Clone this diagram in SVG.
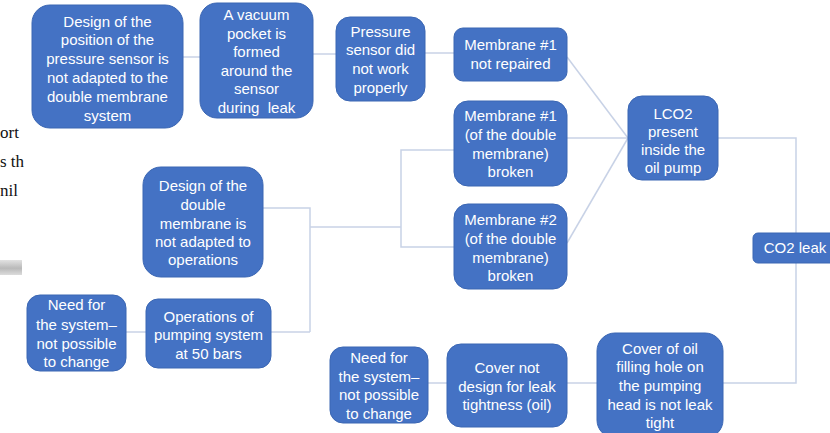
<svg xmlns="http://www.w3.org/2000/svg" width="830" height="433" viewBox="0 0 830 433">
<defs>
<style>
.n{fill:#4472c4;stroke:#3a66b3;stroke-width:1}
.t{fill:#fff;font-family:"Liberation Sans",Arial,sans-serif;font-size:15px;text-anchor:middle}
.c{fill:none;stroke:#c8d2e6;stroke-width:1.5}
.s{fill:#111;font-family:"Liberation Serif","Times New Roman",serif;font-size:17px}
</style>
<linearGradient id="g" x1="0" y1="0" x2="0" y2="1">
<stop offset="0" stop-color="#e2e2e2"/>
<stop offset="0.55" stop-color="#b9b9b9"/>
<stop offset="1" stop-color="#dcdcdc"/>
</linearGradient>
</defs>
<rect width="830" height="433" fill="#fff"/>
<g id="background-fragment">
<text class="s" x="0" y="138">ort</text>
<text class="s" x="0" y="167">s th</text>
<text class="s" x="0" y="196">nil</text>
<rect x="0" y="260" width="22" height="15" fill="url(#g)"/>
</g>
<g id="connectors">
<path class="c" d="M183,57H200"/>
<path class="c" d="M313,54H336"/>
<path class="c" d="M425,53H454"/>
<path class="c" d="M567,57L628,138"/>
<path class="c" d="M567,138H628"/>
<path class="c" d="M567,243L628,138"/>
<path class="c" d="M263,208H310V332"/>
<path class="c" d="M271,332H310"/>
<path class="c" d="M310,227H401"/>
<path class="c" d="M454,150H401V247H454"/>
<path class="c" d="M126,332H146"/>
<path class="c" d="M428,383H447"/>
<path class="c" d="M567,383H597"/>
<path class="c" d="M718,138H796V383H723"/>
</g>
<g id="n1"><rect class="n" x="32" y="5" width="151" height="123" rx="18"/>
<text class="t"><tspan x="107.5" y="26.5">Design of the</tspan><tspan x="107.5" y="45.4">position of the</tspan><tspan x="107.5" y="64.3">pressure sensor is</tspan><tspan x="107.5" y="83.2">not adapted to the</tspan><tspan x="107.5" y="102.1">double membrane</tspan><tspan x="107.5" y="121">system</tspan></text></g>
<g id="n2"><rect class="n" x="200" y="3" width="113" height="115" rx="17"/>
<text class="t" xml:space="preserve"><tspan x="256.5" y="20">A vacuum</tspan><tspan x="256.5" y="38.5">pocket is</tspan><tspan x="256.5" y="57">formed</tspan><tspan x="256.5" y="75.5">around the</tspan><tspan x="256.5" y="94">sensor</tspan><tspan x="256.5" y="112.5">during  leak</tspan></text></g>
<g id="n3"><rect class="n" x="336" y="17" width="89" height="84" rx="14"/>
<text class="t"><tspan x="380.5" y="36.5">Pressure</tspan><tspan x="380.5" y="55">sensor did</tspan><tspan x="380.5" y="74">not work</tspan><tspan x="380.5" y="93">properly</tspan></text></g>
<g id="n4"><rect class="n" x="454" y="28" width="113" height="53" rx="9"/>
<text class="t"><tspan x="510.5" y="50">Membrane #1</tspan><tspan x="510.5" y="69">not repaired</tspan></text></g>
<g id="n5"><rect class="n" x="454" y="101" width="113" height="85" rx="14"/>
<text class="t"><tspan x="510.5" y="121">Membrane #1</tspan><tspan x="510.5" y="140">(of the double</tspan><tspan x="510.5" y="158.5">membrane)</tspan><tspan x="510.5" y="177">broken</tspan></text></g>
<g id="n6"><rect class="n" x="454" y="204" width="113" height="85" rx="14"/>
<text class="t"><tspan x="510.5" y="224.5">Membrane #2</tspan><tspan x="510.5" y="243.5">(of the double</tspan><tspan x="510.5" y="262.5">membrane)</tspan><tspan x="510.5" y="281">broken</tspan></text></g>
<g id="n7"><rect class="n" x="628" y="96" width="90" height="84" rx="14"/>
<text class="t"><tspan x="673" y="118.5">LCO2</tspan><tspan x="673" y="136.5">present</tspan><tspan x="673" y="154.5">inside the</tspan><tspan x="673" y="172.5">oil pump</tspan></text></g>
<g id="n8"><rect class="n" x="753" y="233" width="84" height="30" rx="5"/>
<text class="t" x="795" y="253">CO2 leak</text></g>
<g id="n9"><rect class="n" x="597" y="333" width="126" height="105" rx="18"/>
<text class="t"><tspan x="660" y="353.5">Cover of oil</tspan><tspan x="660" y="372">filling hole on</tspan><tspan x="660" y="391">the pumping</tspan><tspan x="660" y="410">head is not leak</tspan><tspan x="660" y="428">tight</tspan></text></g>
<g id="n10"><rect class="n" x="447" y="344" width="120" height="83" rx="14"/>
<text class="t"><tspan x="507" y="372.5">Cover not</tspan><tspan x="507" y="391.5">design for leak</tspan><tspan x="507" y="410">tightness (oil)</tspan></text></g>
<g id="n11"><rect class="n" x="330" y="347" width="98" height="76" rx="13"/>
<text class="t"><tspan x="379" y="362.5">Need for</tspan><tspan x="379" y="381.5">the system–</tspan><tspan x="379" y="400">not possible</tspan><tspan x="379" y="418.5">to change</tspan></text></g>
<g id="n12"><rect class="n" x="143" y="167" width="120" height="110" rx="18"/>
<text class="t"><tspan x="203" y="191">Design of the</tspan><tspan x="203" y="209.5">double</tspan><tspan x="203" y="228.5">membrane is</tspan><tspan x="203" y="247">not adapted to</tspan><tspan x="203" y="265">operations</tspan></text></g>
<g id="n13"><rect class="n" x="146" y="299" width="125" height="69" rx="12"/>
<text class="t"><tspan x="208.5" y="321.5">Operations of</tspan><tspan x="208.5" y="340">pumping system</tspan><tspan x="208.5" y="358.5">at 50 bars</tspan></text></g>
<g id="n14"><rect class="n" x="27" y="295" width="99" height="76" rx="13"/>
<text class="t"><tspan x="76.5" y="310">Need for</tspan><tspan x="76.5" y="330">the system–</tspan><tspan x="76.5" y="348.5">not possible</tspan><tspan x="76.5" y="366.5">to change</tspan></text></g>
</svg>
